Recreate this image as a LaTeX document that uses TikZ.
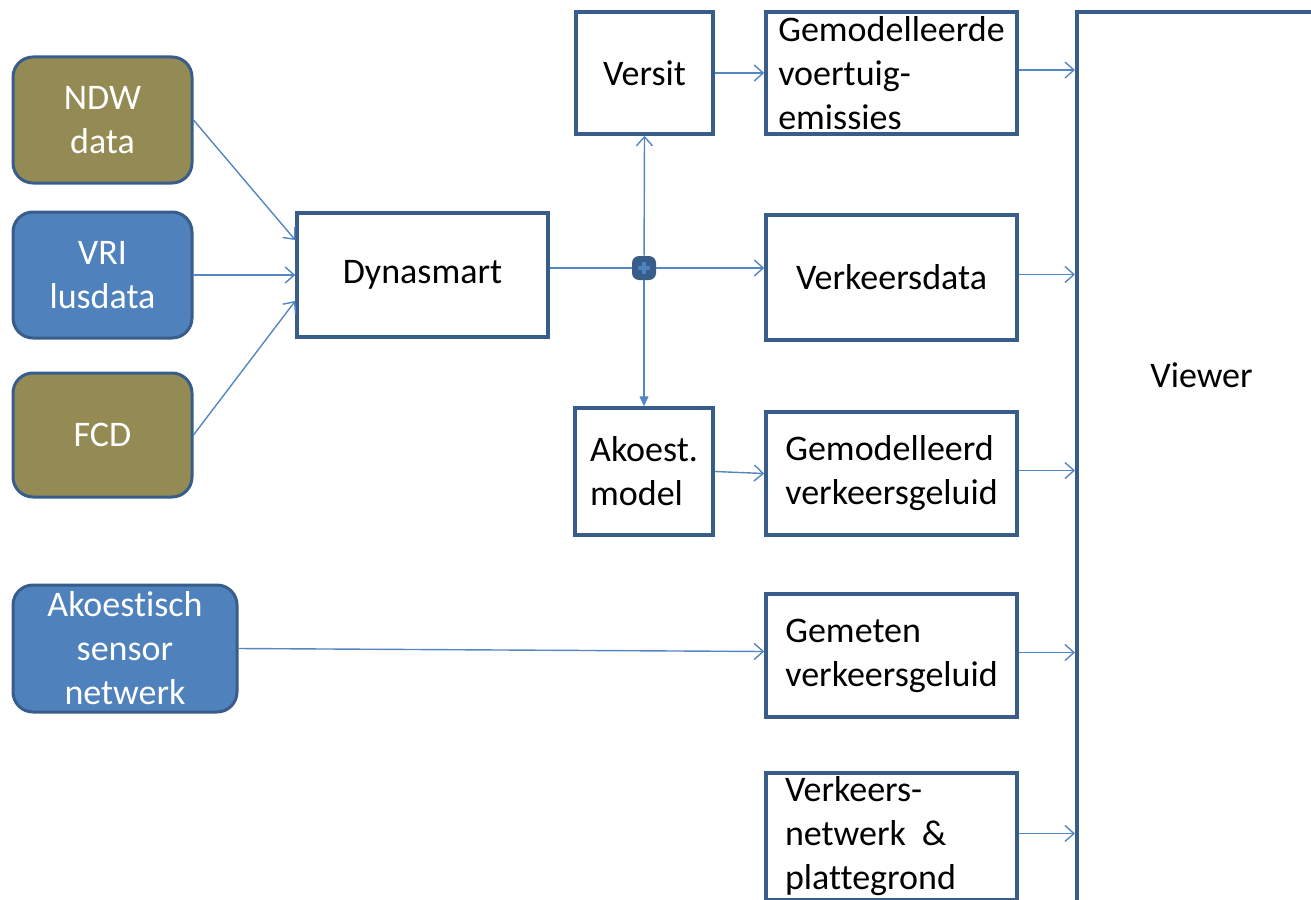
\documentclass[tikz,border=0pt]{standalone}
\usepackage{fontspec}
\setmainfont[Ligatures={NoCommon}]{Carlito}
\usetikzlibrary{arrows.meta}
\definecolor{rand}{RGB}{56,93,138}
\definecolor{olijf}{RGB}{148,138,84}
\definecolor{blauw}{RGB}{79,129,189}
\definecolor{lijn}{RGB}{84,134,196}
\tikzset{
  bron/.style={draw=rand, line width=1.5pt, rounded corners=10pt, text=white, align=center, inner sep=0pt},
  blok/.style={draw=rand, line width=1.75pt, fill=white, align=center, inner sep=0pt},
  links/.style={align=left},
  pijl/.style={draw=lijn, line width=0.7pt, -{Straight Barb[length=4.5pt,width=8pt]}},
  vol/.style={draw=lijn, line width=0.7pt, -{Triangle[length=5pt,width=4.5pt]}},
  knoop/.style={rounded corners=3.5pt, rectangle, fill=rand, minimum size=12pt, inner sep=0pt,
    path picture={\draw[blauw, line width=2pt] (path picture bounding box.center) ++(-3.2pt,0) -- ++(6.4pt,0)
      (path picture bounding box.center) ++(0,-3.2pt) -- ++(0,6.4pt);}},
}

\begin{document}
\begin{tikzpicture}[x=0.5pt, y=-0.5pt, font=\fontsize{18}{22}\selectfont]
  \useasboundingbox (0,0) rectangle (1311,899);
  \clip (0,0) rectangle (1311,899);
  % bronnen
  \node[bron, fill=olijf, minimum width=89.5pt, minimum height=63pt] (ndw) at (102.5,120) {NDW\\data};
  \node[bron, fill=blauw, minimum width=89.5pt, minimum height=63pt] (vri) at (102.5,275) {VRI\\lusdata};
  \node[bron, fill=olijf, minimum width=89.5pt, minimum height=62pt] (fcd) at (102.5,435) {FCD};
  \node[bron, fill=blauw, minimum width=112pt, minimum height=63.5pt] (sensor) at (125,648.5) {Akoestisch\\sensor\\netwerk};
  % modellen
  \node[blok, minimum width=125.5pt, minimum height=62pt] (dyna) at (422.5,275) {Dynasmart};
  \node[blok, minimum width=68.5pt, minimum height=61pt] (versit) at (644.5,73) {Versit};
  \node[blok, links, minimum width=69pt, minimum height=63.5pt] (akmodel) at (644,471.5) {Akoest.\\model};
  % resultaten
  \node[blok, links, minimum width=125.5pt, minimum height=61pt] (emissie) at (891.5,73) {Gemodelleerde\\voertuig-\\emissies};
  \node[blok, minimum width=125.5pt, minimum height=62.5pt] (verkdata) at (891.5,277.5) {Verkeersdata};
  \node[blok, links, minimum width=125.5pt, minimum height=61.5pt] (geluidmod) at (891.5,473.5) {Gemodelleerd\\verkeersgeluid};
  \node[blok, links, minimum width=125.5pt, minimum height=61.5pt] (geluidmeet) at (891.5,655.5) {Gemeten\\verkeersgeluid};
  \node[blok, links, text width=106.5pt, minimum width=125.5pt, minimum height=63.5pt] (netwerk) at (891.5,836.5) {Verkeers-\\netwerk\hspace{8pt}\&\\plattegrond};
  \node[blok, line width=2pt, minimum width=131.5pt, minimum height=464pt] (viewer) at (1208.5,476) {};
  \node (viewertxt) at (1201.5,375) {Viewer};

  \draw[pijl] (ndw.east) -- ([yshift=17.5pt]dyna.west);
  \draw[pijl] (vri.east) -- (dyna.west);
  \draw[pijl] (fcd.east) -- ([yshift=-13pt]dyna.west);
  \draw[pijl] (sensor.east) -- ([yshift=2pt]geluidmeet.west);

  \node[knoop] (splits) at (644,268) {};
  \draw[draw=lijn, line width=0.7pt] (dyna.east |- splits) -- (splits);
  \draw[pijl] (splits) -- (verkdata.west |- splits);
  \draw[pijl] (splits) -- (versit.south);
  \draw[vol] (splits) -- (akmodel.north);
  \draw[pijl] (versit.east) -- (emissie.west);
  \draw[pijl] (akmodel.east) -- (geluidmod.west);

  \foreach \n in {emissie, verkdata, geluidmod, geluidmeet, netwerk}
    \draw[pijl] ([yshift=1.5pt]\n.east) -- ([yshift=1.5pt]\n.east -| viewer.west);
\end{tikzpicture}
\end{document}
